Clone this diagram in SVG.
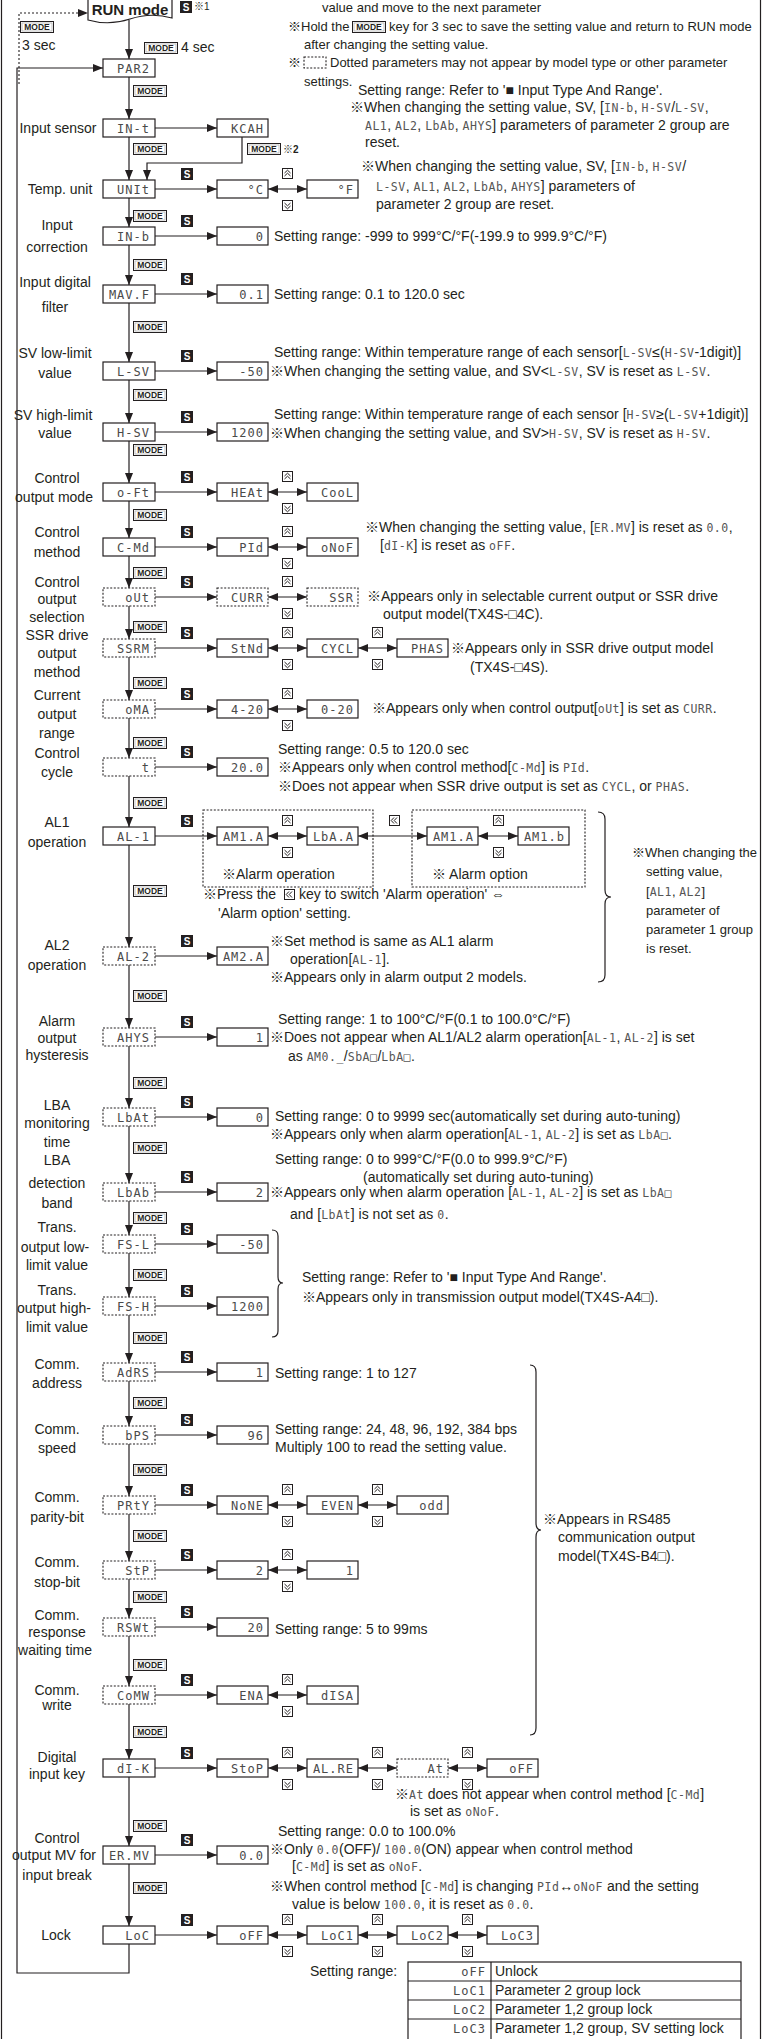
<svg xmlns="http://www.w3.org/2000/svg" width="763" height="2039" viewBox="0 0 763 2039">
<style>
.box{fill:#fff;stroke:#231f20;stroke-width:1.2}
.dt{fill:#fff;stroke:#231f20;stroke-width:1.1;stroke-dasharray:2 1.6}
.ln{fill:none;stroke:#231f20;stroke-width:1.2}
.dl{fill:none;stroke:#231f20;stroke-width:1.1;stroke-dasharray:2 2}
.d{font-family:"DejaVu Sans Mono",monospace;font-size:12px;fill:#4a4a4a;text-anchor:end;letter-spacing:1px}
.t{font-family:"Liberation Sans","Noto Sans CJK JP",sans-serif;font-size:14px;fill:#231f20}
.s{font-family:"Liberation Sans","Noto Sans CJK JP",sans-serif;font-size:13px;fill:#231f20}
.lb{font-family:"Liberation Sans","Noto Sans CJK JP",sans-serif;font-size:14px;fill:#231f20;text-anchor:middle}
.di{font-family:"DejaVu Sans Mono",monospace;font-size:11.5px;fill:#555;letter-spacing:0.5px}
.ic{fill:#fff;stroke:#231f20;stroke-width:1}
.ch{fill:none;stroke:#231f20;stroke-width:1}
</style>
<defs>
<marker id="ah" viewBox="0 0 10 8" refX="10" refY="4" markerWidth="10" markerHeight="8" markerUnits="userSpaceOnUse" orient="auto-start-reverse"><path d="M0,0 L10,4 L0,8 z" fill="#231f20"/></marker>
<g id="sb"><rect width="12" height="12" fill="#231f20"/><text x="6" y="10" font-family="Liberation Sans,sans-serif" font-weight="bold" font-size="10" fill="#fff" text-anchor="middle">S</text></g>
<g id="mb"><rect x="0.5" y="0.5" width="33" height="11" fill="#fff" stroke="#231f20" stroke-width="1"/><rect x="2" y="2" width="30" height="8" fill="none" stroke="#9a9a9a" stroke-width="0.6"/><text x="17" y="9.3" font-family="Liberation Sans,sans-serif" font-weight="bold" font-size="8.5" fill="#231f20" text-anchor="middle">MODE</text></g>
<g id="up"><rect class="ic" x="0.5" y="0.5" width="10" height="10"/><polyline class="ch" points="2.5,5 5.5,2.2 8.5,5"/><polyline class="ch" points="2.5,8 5.5,5.2 8.5,8"/></g>
<g id="dn"><rect class="ic" x="0.5" y="0.5" width="10" height="10"/><polyline class="ch" points="2.5,3 5.5,5.8 8.5,3"/><polyline class="ch" points="2.5,6 5.5,8.8 8.5,6"/></g>
<g id="bk"><rect class="ic" x="0.5" y="0.5" width="10" height="10"/><polyline class="ch" points="5,2.5 2.2,5.5 5,8.5"/><polyline class="ch" points="8,2.5 5.2,5.5 8,8.5"/></g>
</defs>

<!-- frame -->
<line class="ln" x1="1.5" y1="0" x2="1.5" y2="2039"/>
<line class="ln" x1="760.5" y1="0" x2="760.5" y2="2039"/>

<!-- top notes -->
<g id="notes-top">
<text class="s" x="322" y="12">value and move to the next parameter</text>
<text class="s" x="288" y="31">※Hold the</text>
<use href="#mb" x="352" y="21"/>
<text class="s" x="389" y="31">key for 3 sec to save the setting value and return to RUN mode</text>
<text class="s" x="304" y="49">after changing the setting value.</text>
<text class="s" x="288" y="67">※</text>
<rect class="dt" x="304" y="57" width="22" height="11"/>
<text class="s" x="330" y="67">Dotted parameters may not appear by model type or other parameter</text>
<text class="s" x="304" y="86">settings.</text>
<text class="t" x="358" y="95">Setting range: Refer to '■ Input Type And Range'.</text>
<text class="t" x="350" y="112">※When changing the setting value, SV, [<tspan class="di">IN-b</tspan>, <tspan class="di">H-SV</tspan>/<tspan class="di">L-SV</tspan>,</text>
<text class="t" x="365" y="130"><tspan class="di">AL1</tspan>, <tspan class="di">AL2</tspan>, <tspan class="di">LbAb</tspan>, <tspan class="di">AHYS</tspan>] parameters of parameter 2 group are</text>
<text class="t" x="365" y="147">reset.</text>
</g>

<!-- nodes -->
<g id="n-run"><path class="box" d="M88,-2 H172 V18 Q151,12 130,19 Q109,26 88,20 Z"/><text x="130" y="15" font-family="Liberation Sans,sans-serif" font-weight="bold" font-size="15" text-anchor="middle" fill="#231f20">RUN mode</text></g>
<g id="n-par2"><rect class="box" x="103" y="59" width="52" height="18"/><text class="d" x="150" y="72.5">PAR2</text></g>

<g id="n-int"><rect class="box" x="103" y="119" width="52" height="18"/><text class="d" x="150" y="132.5">IN-t</text><text class="lb" x="58" y="133">Input sensor</text>
<rect class="box" x="217" y="119" width="51" height="18"/><text class="d" x="264" y="132.5">KCAH</text></g>

<g id="n-unit"><rect class="box" x="103" y="180" width="52" height="18"/><text class="d" x="150" y="193.5">UNIt</text><text class="lb" x="60" y="194">Temp. unit</text>
<rect class="box" x="217" y="180" width="51" height="18"/><text class="d" x="264" y="193.5">°C</text>
<rect class="box" x="307" y="180" width="51" height="18"/><text class="d" x="354" y="193.5">°F</text>
<text class="t" x="361" y="171">※When changing the setting value, SV, [<tspan class="di">IN-b</tspan>, <tspan class="di">H-SV</tspan>/</text>
<text class="t" x="376" y="191"><tspan class="di">L-SV</tspan>, <tspan class="di">AL1</tspan>, <tspan class="di">AL2</tspan>, <tspan class="di">LbAb</tspan>, <tspan class="di">AHYS</tspan>] parameters of</text>
<text class="t" x="376" y="209">parameter 2 group are reset.</text></g>

<g id="n-inb"><rect class="box" x="103" y="227" width="52" height="18"/><text class="d" x="150" y="240.5">IN-b</text><text class="lb" x="57" y="230">Input</text><text class="lb" x="57" y="252">correction</text>
<rect class="box" x="217" y="227" width="51" height="18"/><text class="d" x="264" y="240.5">0</text>
<text class="t" x="274" y="241">Setting range: -999 to 999°C/°F(-199.9 to 999.9°C/°F)</text></g>

<g id="n-mavf"><rect class="box" x="103" y="285" width="52" height="18"/><text class="d" x="150" y="298.5">MAV.F</text><text class="lb" x="55" y="287">Input digital</text><text class="lb" x="55" y="312">filter</text>
<rect class="box" x="217" y="285" width="51" height="18"/><text class="d" x="264" y="298.5">0.1</text>
<text class="t" x="274" y="299">Setting range: 0.1 to 120.0 sec</text></g>

<g id="n-lsv"><rect class="box" x="103" y="362" width="52" height="18"/><text class="d" x="150" y="375.5">L-SV</text><text class="lb" x="55" y="358">SV low-limit</text><text class="lb" x="55" y="378">value</text>
<rect class="box" x="217" y="362" width="51" height="18"/><text class="d" x="264" y="375.5">-50</text>
<text class="t" x="274" y="357">Setting range: Within temperature range of each sensor[<tspan class="di">L-SV</tspan>≤(<tspan class="di">H-SV</tspan>-1digit)]</text>
<text class="t" x="270" y="376">※When changing the setting value, and SV&lt;<tspan class="di">L-SV</tspan>, SV is reset as <tspan class="di">L-SV</tspan>.</text></g>

<g id="n-hsv"><rect class="box" x="103" y="423" width="52" height="18"/><text class="d" x="150" y="436.5">H-SV</text><text class="lb" x="53" y="420">SV high-limit</text><text class="lb" x="55" y="438">value</text>
<rect class="box" x="217" y="423" width="51" height="18"/><text class="d" x="264" y="436.5">1200</text>
<text class="t" x="274" y="419">Setting range: Within temperature range of each sensor [<tspan class="di">H-SV</tspan>≥(<tspan class="di">L-SV</tspan>+1digit)]</text>
<text class="t" x="270" y="438">※When changing the setting value, and SV&gt;<tspan class="di">H-SV</tspan>, SV is reset as <tspan class="di">H-SV</tspan>.</text></g>

<g id="n-oft"><rect class="box" x="103" y="483" width="52" height="18"/><text class="d" x="150" y="496.5">o-Ft</text><text class="lb" x="57" y="483">Control</text><text class="lb" x="54" y="502">output mode</text>
<rect class="box" x="217" y="483" width="51" height="18"/><text class="d" x="264" y="496.5">HEAt</text>
<rect class="box" x="307" y="483" width="51" height="18"/><text class="d" x="354" y="496.5">CooL</text></g>

<g id="n-cmd"><rect class="box" x="103" y="538" width="52" height="18"/><text class="d" x="150" y="551.5">C-Md</text><text class="lb" x="57" y="537">Control</text><text class="lb" x="57" y="557">method</text>
<rect class="box" x="217" y="538" width="51" height="18"/><text class="d" x="264" y="551.5">PId</text>
<rect class="box" x="307" y="538" width="51" height="18"/><text class="d" x="354" y="551.5">oNoF</text>
<text class="t" x="365" y="532">※When changing the setting value, [<tspan class="di">ER.MV</tspan>] is reset as <tspan class="di">0.0</tspan>,</text>
<text class="t" x="380" y="550">[<tspan class="di">dI-K</tspan>] is reset as <tspan class="di">oFF</tspan>.</text></g>

<g id="n-out"><rect class="dt" x="103" y="588" width="52" height="18"/><text class="d" x="150" y="601.5">oUt</text><text class="lb" x="57" y="587">Control</text><text class="lb" x="57" y="604">output</text><text class="lb" x="57" y="622">selection</text>
<rect class="dt" x="217" y="588" width="51" height="18"/><text class="d" x="264" y="601.5">CURR</text>
<rect class="dt" x="307" y="588" width="51" height="18"/><text class="d" x="354" y="601.5">SSR</text>
<text class="t" x="367" y="601">※Appears only in selectable current output or SSR drive</text>
<text class="t" x="383" y="619">output model(TX4S-□4C).</text></g>

<g id="n-ssrm"><rect class="dt" x="103" y="639" width="52" height="18"/><text class="d" x="150" y="652.5">SSRM</text><text class="lb" x="57" y="640">SSR drive</text><text class="lb" x="57" y="658">output</text><text class="lb" x="57" y="677">method</text>
<rect class="box" x="217" y="639" width="51" height="18"/><text class="d" x="264" y="652.5">StNd</text>
<rect class="box" x="307" y="639" width="51" height="18"/><text class="d" x="354" y="652.5">CYCL</text>
<rect class="box" x="397" y="639" width="51" height="18"/><text class="d" x="444" y="652.5">PHAS</text>
<text class="t" x="451" y="653">※Appears only in SSR drive output model</text>
<text class="t" x="470" y="672">(TX4S-□4S).</text></g>

<g id="n-oma"><rect class="dt" x="103" y="700" width="52" height="18"/><text class="d" x="150" y="713.5">oMA</text><text class="lb" x="57" y="700">Current</text><text class="lb" x="57" y="719">output</text><text class="lb" x="57" y="738">range</text>
<rect class="box" x="217" y="700" width="51" height="18"/><text class="d" x="264" y="713.5">4-20</text>
<rect class="box" x="307" y="700" width="51" height="18"/><text class="d" x="354" y="713.5">0-20</text>
<text class="t" x="372" y="713">※Appears only when control output[<tspan class="di">oUt</tspan>] is set as <tspan class="di">CURR</tspan>.</text></g>

<g id="n-t"><rect class="dt" x="103" y="758" width="52" height="18"/><text class="d" x="150" y="771.5">t</text><text class="lb" x="57" y="758">Control</text><text class="lb" x="57" y="777">cycle</text>
<rect class="box" x="217" y="758" width="51" height="18"/><text class="d" x="264" y="771.5">20.0</text>
<text class="t" x="278" y="754">Setting range: 0.5 to 120.0 sec</text>
<text class="t" x="278" y="772">※Appears only when control method[<tspan class="di">C-Md</tspan>] is <tspan class="di">PId</tspan>.</text>
<text class="t" x="278" y="791">※Does not appear when SSR drive output is set as <tspan class="di">CYCL</tspan>, or <tspan class="di">PHAS</tspan>.</text></g>

<g id="n-al1"><rect class="box" x="103" y="827" width="52" height="18"/><text class="d" x="150" y="840.5">AL-1</text><text class="lb" x="57" y="827">AL1</text><text class="lb" x="57" y="847">operation</text>
<rect class="dt" x="203" y="810" width="170" height="77" fill="none"/>
<rect class="dt" x="412" y="810" width="173" height="77" fill="none"/>
<rect class="box" x="217" y="827" width="51" height="18"/><text class="d" x="264" y="840.5">AM1.A</text>
<rect class="box" x="307" y="827" width="51" height="18"/><text class="d" x="354" y="840.5">LbA.A</text>
<rect class="box" x="427" y="827" width="51" height="18"/><text class="d" x="474" y="840.5">AM1.A</text>
<rect class="box" x="518" y="827" width="51" height="18"/><text class="d" x="565" y="840.5">AM1.b</text>
<text class="t" x="222" y="879">※Alarm operation</text>
<text class="t" x="432" y="879">※ Alarm option</text>
<text class="t" x="203" y="899">※Press the</text>
<use href="#bk" x="284" y="889"/>
<text class="t" x="299" y="899">key to switch 'Alarm operation' ⇔</text>
<text class="t" x="218" y="918">'Alarm option' setting.</text>
<text class="s" x="632" y="857">※When changing the</text>
<text class="s" x="646" y="876">setting value,</text>
<text class="s" x="646" y="896">[<tspan class="di">AL1</tspan>, <tspan class="di">AL2</tspan>]</text>
<text class="s" x="646" y="915">parameter of</text>
<text class="s" x="646" y="934">parameter 1 group</text>
<text class="s" x="646" y="953">is reset.</text></g>

<g id="n-al2"><rect class="dt" x="103" y="947" width="52" height="18"/><text class="d" x="150" y="960.5">AL-2</text><text class="lb" x="57" y="950">AL2</text><text class="lb" x="57" y="970">operation</text>
<rect class="box" x="217" y="947" width="51" height="18"/><text class="d" x="264" y="960.5">AM2.A</text>
<text class="t" x="270" y="946">※Set method is same as AL1 alarm</text>
<text class="t" x="290" y="964">operation[<tspan class="di">AL-1</tspan>].</text>
<text class="t" x="270" y="982">※Appears only in alarm output 2 models.</text></g>

<g id="n-ahys"><rect class="dt" x="103" y="1028" width="52" height="18"/><text class="d" x="150" y="1041.5">AHYS</text><text class="lb" x="57" y="1026">Alarm</text><text class="lb" x="57" y="1043">output</text><text class="lb" x="57" y="1060">hysteresis</text>
<rect class="box" x="217" y="1028" width="51" height="18"/><text class="d" x="264" y="1041.5">1</text>
<text class="t" x="278" y="1024">Setting range: 1 to 100°C/°F(0.1 to 100.0°C/°F)</text>
<text class="t" x="270" y="1042">※Does not appear when AL1/AL2 alarm operation[<tspan class="di">AL-1</tspan>, <tspan class="di">AL-2</tspan>] is set</text>
<text class="t" x="288" y="1061">as <tspan class="di">AM0._</tspan>/<tspan class="di">SbA□</tspan>/<tspan class="di">LbA□</tspan>.</text></g>

<g id="n-lbat"><rect class="dt" x="103" y="1108" width="52" height="18"/><text class="d" x="150" y="1121.5">LbAt</text><text class="lb" x="57" y="1110">LBA</text><text class="lb" x="57" y="1128">monitoring</text><text class="lb" x="57" y="1147">time</text>
<rect class="box" x="217" y="1108" width="51" height="18"/><text class="d" x="264" y="1121.5">0</text>
<text class="t" x="275" y="1121">Setting range: 0 to 9999 sec(automatically set during auto-tuning)</text>
<text class="t" x="270" y="1139">※Appears only when alarm operation[<tspan class="di">AL-1</tspan>, <tspan class="di">AL-2</tspan>] is set as <tspan class="di">LbA□</tspan>.</text></g>

<g id="n-lbab"><rect class="dt" x="103" y="1183" width="52" height="18"/><text class="d" x="150" y="1196.5">LbAb</text><text class="lb" x="57" y="1165">LBA</text><text class="lb" x="57" y="1188">detection</text><text class="lb" x="57" y="1208">band</text>
<rect class="box" x="217" y="1183" width="51" height="18"/><text class="d" x="264" y="1196.5">2</text>
<text class="t" x="275" y="1164">Setting range: 0 to 999°C/°F(0.0 to 999.9°C/°F)</text>
<text class="t" x="363" y="1182">(automatically set during auto-tuning)</text>
<text class="t" x="270" y="1197">※Appears only when alarm operation [<tspan class="di">AL-1</tspan>, <tspan class="di">AL-2</tspan>] is set as <tspan class="di">LbA□</tspan></text>
<text class="t" x="290" y="1219">and [<tspan class="di">LbAt</tspan>] is not set as <tspan class="di">0</tspan>.</text></g>

<g id="n-fsl"><rect class="dt" x="103" y="1235" width="52" height="18"/><text class="d" x="150" y="1248.5">FS-L</text><text class="lb" x="57" y="1232">Trans.</text><text class="lb" x="55" y="1252">output low-</text><text class="lb" x="57" y="1270">limit value</text>
<rect class="box" x="217" y="1235" width="51" height="18"/><text class="d" x="264" y="1248.5">-50</text></g>

<g id="n-fsh"><rect class="dt" x="103" y="1297" width="52" height="18"/><text class="d" x="150" y="1310.5">FS-H</text><text class="lb" x="57" y="1295">Trans.</text><text class="lb" x="54" y="1313">output high-</text><text class="lb" x="57" y="1332">limit value</text>
<rect class="box" x="217" y="1297" width="51" height="18"/><text class="d" x="264" y="1310.5">1200</text>
<text class="t" x="302" y="1282">Setting range: Refer to '■ Input Type And Range'.</text>
<text class="t" x="302" y="1302">※Appears only in transmission output model(TX4S-A4□).</text></g>

<g id="n-adrs"><rect class="dt" x="103" y="1363" width="52" height="18"/><text class="d" x="150" y="1376.5">AdRS</text><text class="lb" x="57" y="1369">Comm.</text><text class="lb" x="57" y="1388">address</text>
<rect class="box" x="217" y="1363" width="51" height="18"/><text class="d" x="264" y="1376.5">1</text>
<text class="t" x="275" y="1378">Setting range: 1 to 127</text></g>

<g id="n-bps"><rect class="dt" x="103" y="1426" width="52" height="18"/><text class="d" x="150" y="1439.5">bPS</text><text class="lb" x="57" y="1434">Comm.</text><text class="lb" x="57" y="1453">speed</text>
<rect class="box" x="217" y="1426" width="51" height="18"/><text class="d" x="264" y="1439.5">96</text>
<text class="t" x="275" y="1434">Setting range: 24, 48, 96, 192, 384 bps</text>
<text class="t" x="275" y="1452">Multiply 100 to read the setting value.</text></g>

<g id="n-prty"><rect class="dt" x="103" y="1496" width="52" height="18"/><text class="d" x="150" y="1509.5">PRtY</text><text class="lb" x="57" y="1502">Comm.</text><text class="lb" x="57" y="1522">parity-bit</text>
<rect class="box" x="217" y="1496" width="51" height="18"/><text class="d" x="264" y="1509.5">NoNE</text>
<rect class="box" x="307" y="1496" width="51" height="18"/><text class="d" x="354" y="1509.5">EVEN</text>
<rect class="box" x="397" y="1496" width="51" height="18"/><text class="d" x="444" y="1509.5">odd</text>
<text class="t" x="543" y="1524">※Appears in RS485</text>
<text class="t" x="558" y="1542">communication output</text>
<text class="t" x="558" y="1561">model(TX4S-B4□).</text></g>

<g id="n-stp"><rect class="dt" x="103" y="1561" width="52" height="18"/><text class="d" x="150" y="1574.5">StP</text><text class="lb" x="57" y="1567">Comm.</text><text class="lb" x="57" y="1587">stop-bit</text>
<rect class="box" x="217" y="1561" width="51" height="18"/><text class="d" x="264" y="1574.5">2</text>
<rect class="box" x="307" y="1561" width="51" height="18"/><text class="d" x="354" y="1574.5">1</text></g>

<g id="n-rswt"><rect class="dt" x="103" y="1618" width="52" height="18"/><text class="d" x="150" y="1631.5">RSWt</text><text class="lb" x="57" y="1620">Comm.</text><text class="lb" x="57" y="1637">response</text><text class="lb" x="55" y="1655">waiting time</text>
<rect class="box" x="217" y="1618" width="51" height="18"/><text class="d" x="264" y="1631.5">20</text>
<text class="t" x="275" y="1634">Setting range: 5 to 99ms</text></g>

<g id="n-comw"><rect class="dt" x="103" y="1686" width="52" height="18"/><text class="d" x="150" y="1699.5">CoMW</text><text class="lb" x="57" y="1695">Comm.</text><text class="lb" x="57" y="1710">write</text>
<rect class="box" x="217" y="1686" width="51" height="18"/><text class="d" x="264" y="1699.5">ENA</text>
<rect class="box" x="307" y="1686" width="51" height="18"/><text class="d" x="354" y="1699.5">dISA</text></g>

<g id="n-dik"><rect class="box" x="103" y="1759" width="52" height="18"/><text class="d" x="150" y="1772.5">dI-K</text><text class="lb" x="57" y="1762">Digital</text><text class="lb" x="57" y="1779">input key</text>
<rect class="box" x="217" y="1759" width="51" height="18"/><text class="d" x="264" y="1772.5">StoP</text>
<rect class="box" x="307" y="1759" width="51" height="18"/><text class="d" x="354" y="1772.5">AL.RE</text>
<rect class="dt" x="397" y="1759" width="51" height="18"/><text class="d" x="444" y="1772.5">At</text>
<rect class="box" x="487" y="1759" width="51" height="18"/><text class="d" x="534" y="1772.5">oFF</text>
<text class="t" x="395" y="1799">※<tspan class="di">At</tspan> does not appear when control method [<tspan class="di">C-Md</tspan>]</text>
<text class="t" x="410" y="1816">is set as <tspan class="di">oNoF</tspan>.</text></g>

<g id="n-ermv"><rect class="box" x="103" y="1846" width="52" height="18"/><text class="d" x="150" y="1859.5">ER.MV</text><text class="lb" x="57" y="1843">Control</text><text class="lb" x="54" y="1860">output MV for</text><text class="lb" x="57" y="1880">input break</text>
<rect class="box" x="217" y="1846" width="51" height="18"/><text class="d" x="264" y="1859.5">0.0</text>
<text class="t" x="278" y="1836">Setting range: 0.0 to 100.0%</text>
<text class="t" x="270" y="1854">※Only <tspan class="di">0.0</tspan>(OFF)/ <tspan class="di">100.0</tspan>(ON) appear when control method</text>
<text class="t" x="292" y="1871">[<tspan class="di">C-Md</tspan>] is set as <tspan class="di">oNoF</tspan>.</text>
<text class="t" x="270" y="1891">※When control method [<tspan class="di">C-Md</tspan>] is changing <tspan class="di">PId</tspan>↔<tspan class="di">oNoF</tspan> and the setting</text>
<text class="t" x="292" y="1909">value is below <tspan class="di">100.0</tspan>, it is reset as <tspan class="di">0.0</tspan>.</text></g>

<g id="n-loc"><rect class="box" x="103" y="1926" width="52" height="18"/><text class="d" x="150" y="1939.5">LoC</text><text class="lb" x="56" y="1940">Lock</text>
<rect class="box" x="217" y="1926" width="51" height="18"/><text class="d" x="264" y="1939.5">oFF</text>
<rect class="box" x="307" y="1926" width="51" height="18"/><text class="d" x="354" y="1939.5">LoC1</text>
<rect class="box" x="397" y="1926" width="51" height="18"/><text class="d" x="444" y="1939.5">LoC2</text>
<rect class="box" x="487" y="1926" width="51" height="18"/><text class="d" x="534" y="1939.5">LoC3</text>
<text class="t" x="310" y="1976">Setting range:</text></g>

<g id="lock-table">
<rect class="box" x="408" y="1962" width="333" height="80"/>
<line class="ln" x1="491" y1="1962" x2="491" y2="2039"/>
<line class="ln" x1="408" y1="1981" x2="741" y2="1981"/>
<line class="ln" x1="408" y1="2000" x2="741" y2="2000"/>
<line class="ln" x1="408" y1="2019" x2="741" y2="2019"/>
<text class="d" x="486" y="1976">oFF</text><text class="t" x="495" y="1976">Unlock</text>
<text class="d" x="486" y="1995">LoC1</text><text class="t" x="495" y="1995">Parameter 2 group lock</text>
<text class="d" x="486" y="2014">LoC2</text><text class="t" x="495" y="2014">Parameter 1,2 group lock</text>
<text class="d" x="486" y="2033">LoC3</text><text class="t" x="495" y="2033">Parameter 1,2 group, SV setting lock</text>
</g>

<!-- connectors -->
<g id="connectors">
<path class="dl" marker-end="url(#ah)" d="M19,84 V13 H88"/>
<use href="#mb" x="20" y="21"/>
<text class="t" x="22" y="50">3 sec</text>
<use href="#sb" x="180" y="1"/>
<text x="194" y="10" font-family="Liberation Sans,'Noto Sans CJK JP',sans-serif" font-size="10" fill="#231f20">※1</text>
<use href="#mb" x="144" y="42"/>
<text class="t" x="181" y="52">4 sec</text>

<g marker-end="url(#ah)">
<path class="ln" d="M129,20 V59"/>
<path class="ln" d="M129,77 V119"/>
<path class="ln" d="M129,137 V180"/>
<path class="ln" d="M242,137 V163 H147 V180"/>
<path class="ln" d="M129,198 V227"/>
<path class="ln" d="M129,245 V285"/>
<path class="ln" d="M129,303 V362"/>
<path class="ln" d="M129,380 V423"/>
<path class="ln" d="M129,441 V483"/>
<path class="ln" d="M129,501 V538"/>
<path class="ln" d="M129,556 V588"/>
<path class="ln" d="M129,606 V639"/>
<path class="ln" d="M129,657 V700"/>
<path class="ln" d="M129,718 V758"/>
<path class="ln" d="M129,776 V827"/>
<path class="ln" d="M129,845 V947"/>
<path class="ln" d="M129,965 V1028"/>
<path class="ln" d="M129,1046 V1108"/>
<path class="ln" d="M129,1126 V1183"/>
<path class="ln" d="M129,1201 V1235"/>
<path class="ln" d="M129,1253 V1297"/>
<path class="ln" d="M129,1315 V1363"/>
<path class="ln" d="M129,1381 V1426"/>
<path class="ln" d="M129,1444 V1496"/>
<path class="ln" d="M129,1514 V1561"/>
<path class="ln" d="M129,1579 V1618"/>
<path class="ln" d="M129,1636 V1686"/>
<path class="ln" d="M129,1704 V1759"/>
<path class="ln" d="M129,1777 V1846"/>
<path class="ln" d="M129,1864 V1926"/>
<path class="ln" d="M129,1944 V1973 H17 V68 H103"/>
<path class="ln" d="M155,128 H217"/>
<path class="ln" d="M155,189 H217"/>
<path class="ln" d="M155,236 H217"/>
<path class="ln" d="M155,294 H217"/>
<path class="ln" d="M155,371 H217"/>
<path class="ln" d="M155,432 H217"/>
<path class="ln" d="M155,492 H217"/>
<path class="ln" d="M155,547 H217"/>
<path class="ln" d="M155,597 H217"/>
<path class="ln" d="M155,648 H217"/>
<path class="ln" d="M155,709 H217"/>
<path class="ln" d="M155,767 H217"/>
<path class="ln" d="M155,836 H217"/>
<path class="ln" d="M155,956 H217"/>
<path class="ln" d="M155,1037 H217"/>
<path class="ln" d="M155,1117 H217"/>
<path class="ln" d="M155,1192 H217"/>
<path class="ln" d="M155,1244 H217"/>
<path class="ln" d="M155,1306 H217"/>
<path class="ln" d="M155,1372 H217"/>
<path class="ln" d="M155,1435 H217"/>
<path class="ln" d="M155,1505 H217"/>
<path class="ln" d="M155,1570 H217"/>
<path class="ln" d="M155,1627 H217"/>
<path class="ln" d="M155,1695 H217"/>
<path class="ln" d="M155,1768 H217"/>
<path class="ln" d="M155,1855 H217"/>
<path class="ln" d="M155,1935 H217"/>
</g>
<g marker-start="url(#ah)" marker-end="url(#ah)">
<path class="ln" d="M268,189 H307"/>
<path class="ln" d="M268,492 H307"/>
<path class="ln" d="M268,547 H307"/>
<path class="ln" d="M268,597 H307"/>
<path class="ln" d="M268,648 H307"/>
<path class="ln" d="M358,648 H397"/>
<path class="ln" d="M268,709 H307"/>
<path class="ln" d="M268,836 H307"/>
<path class="ln" d="M358,836 H427"/>
<path class="ln" d="M478,836 H518"/>
<path class="ln" d="M268,1505 H307"/>
<path class="ln" d="M358,1505 H397"/>
<path class="ln" d="M268,1570 H307"/>
<path class="ln" d="M268,1695 H307"/>
<path class="ln" d="M268,1768 H307"/>
<path class="ln" d="M358,1768 H397"/>
<path class="ln" d="M448,1768 H487"/>
<path class="ln" d="M268,1935 H307"/>
<path class="ln" d="M358,1935 H397"/>
<path class="ln" d="M448,1935 H487"/>
</g>

<!-- MODE key badges -->
<use href="#mb" x="133" y="85"/>
<use href="#mb" x="133" y="143"/>
<use href="#mb" x="247" y="143"/>
<text x="283" y="153" font-family="Liberation Sans,'Noto Sans CJK JP',sans-serif" font-size="10" font-weight="bold" fill="#231f20">※2</text>
<use href="#mb" x="133" y="210"/>
<use href="#mb" x="133" y="259"/>
<use href="#mb" x="133" y="321"/>
<use href="#mb" x="133" y="389"/>
<use href="#mb" x="133" y="444"/>
<use href="#mb" x="133" y="509"/>
<use href="#mb" x="133" y="567"/>
<use href="#mb" x="133" y="621"/>
<use href="#mb" x="133" y="677"/>
<use href="#mb" x="133" y="737"/>
<use href="#mb" x="133" y="797"/>
<use href="#mb" x="133" y="885"/>
<use href="#mb" x="133" y="990"/>
<use href="#mb" x="133" y="1077"/>
<use href="#mb" x="133" y="1142"/>
<use href="#mb" x="133" y="1212"/>
<use href="#mb" x="133" y="1269"/>
<use href="#mb" x="133" y="1332"/>
<use href="#mb" x="133" y="1397"/>
<use href="#mb" x="133" y="1464"/>
<use href="#mb" x="133" y="1530"/>
<use href="#mb" x="133" y="1591"/>
<use href="#mb" x="133" y="1659"/>
<use href="#mb" x="133" y="1726"/>
<use href="#mb" x="133" y="1820"/>
<use href="#mb" x="133" y="1882"/>

<!-- S key badges -->
<use href="#sb" x="181" y="168"/>
<use href="#sb" x="181" y="215"/>
<use href="#sb" x="181" y="273"/>
<use href="#sb" x="181" y="350"/>
<use href="#sb" x="181" y="411"/>
<use href="#sb" x="181" y="471"/>
<use href="#sb" x="181" y="526"/>
<use href="#sb" x="181" y="576"/>
<use href="#sb" x="181" y="627"/>
<use href="#sb" x="181" y="688"/>
<use href="#sb" x="181" y="746"/>
<use href="#sb" x="181" y="815"/>
<use href="#sb" x="181" y="935"/>
<use href="#sb" x="181" y="1016"/>
<use href="#sb" x="181" y="1096"/>
<use href="#sb" x="181" y="1171"/>
<use href="#sb" x="181" y="1223"/>
<use href="#sb" x="181" y="1285"/>
<use href="#sb" x="181" y="1351"/>
<use href="#sb" x="181" y="1414"/>
<use href="#sb" x="181" y="1484"/>
<use href="#sb" x="181" y="1549"/>
<use href="#sb" x="181" y="1606"/>
<use href="#sb" x="181" y="1674"/>
<use href="#sb" x="181" y="1747"/>
<use href="#sb" x="181" y="1834"/>
<use href="#sb" x="181" y="1914"/>

<!-- up/down keys -->
<use href="#up" x="282" y="168"/><use href="#dn" x="282" y="200"/>
<use href="#up" x="282" y="471"/><use href="#dn" x="282" y="503"/>
<use href="#up" x="282" y="526"/><use href="#dn" x="282" y="558"/>
<use href="#up" x="282" y="576"/><use href="#dn" x="282" y="608"/>
<use href="#up" x="282" y="627"/><use href="#dn" x="282" y="659"/>
<use href="#up" x="372" y="627"/><use href="#dn" x="372" y="659"/>
<use href="#up" x="282" y="688"/><use href="#dn" x="282" y="720"/>
<use href="#up" x="282" y="815"/><use href="#dn" x="282" y="847"/>
<use href="#bk" x="389" y="815"/>
<use href="#up" x="493" y="815"/><use href="#dn" x="493" y="847"/>
<use href="#up" x="282" y="1484"/><use href="#dn" x="282" y="1516"/>
<use href="#up" x="372" y="1484"/><use href="#dn" x="372" y="1516"/>
<use href="#up" x="282" y="1549"/><use href="#dn" x="282" y="1581"/>
<use href="#up" x="282" y="1674"/><use href="#dn" x="282" y="1706"/>
<use href="#up" x="282" y="1747"/><use href="#dn" x="282" y="1779"/>
<use href="#up" x="372" y="1747"/><use href="#dn" x="372" y="1779"/>
<use href="#up" x="462" y="1747"/><use href="#dn" x="462" y="1779"/>
<use href="#up" x="282" y="1914"/><use href="#dn" x="282" y="1946"/>
<use href="#up" x="372" y="1914"/><use href="#dn" x="372" y="1946"/>
<use href="#up" x="462" y="1914"/><use href="#dn" x="462" y="1946"/>

<!-- braces -->
<path class="ln" d="M598,812 Q605,812 605,819 V890 Q605,897 611,897 Q605,897 605,904 V975 Q605,982 598,982"/>
<path class="ln" d="M272,1230 Q278,1230 278,1236 V1277 Q278,1283 283,1283 Q278,1283 278,1289 V1331 Q278,1337 272,1337"/>
<path class="ln" d="M530,1365 Q536,1365 536,1372 V1523 Q536,1530 541,1530 Q536,1530 536,1537 V1728 Q536,1735 530,1735"/>
</g>
</svg>
